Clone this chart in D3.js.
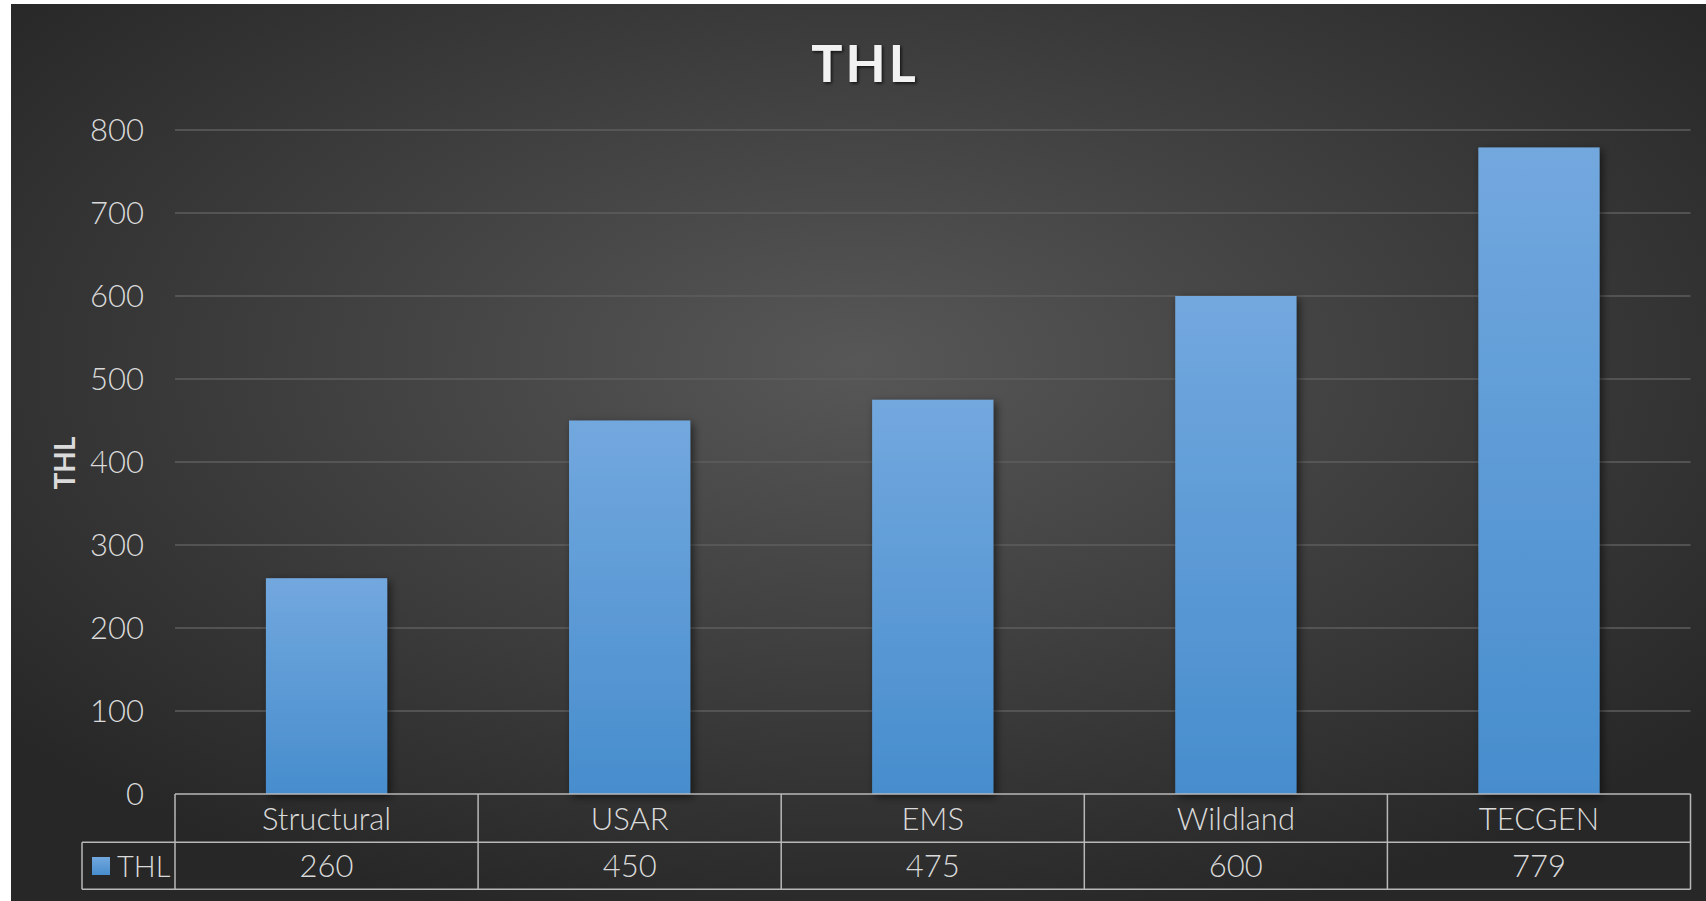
<!DOCTYPE html>
<html>
<head>
<meta charset="utf-8">
<script src="https://cdn.jsdelivr.net/npm/d3@7"></script>
<style>
  html, body { margin: 0; padding: 0; background: #ffffff; }
  svg { display: block; }
  text { font-family: Lato, "Open Sans", sans-serif; }
</style>
</head>
<body>
<svg id="chart" width="1706" height="901"></svg>
<script>
const categories = ["Structural", "USAR", "EMS", "Wildland", "TECGEN"];
const values = [260, 450, 475, 600, 779];
const seriesName = "THL";
const yTicks = [0, 100, 200, 300, 400, 500, 600, 700, 800];
const chartTitle = "THL";
const yAxisTitle = "THL";

(function () {
const svg = d3.select("#chart");
const defs = svg.append("defs");

const bg = defs.append("radialGradient").attr("id", "bgGrad")
  .attr("cx", "50%").attr("cy", "40%").attr("r", "65%");
bg.append("stop").attr("offset", "0%").attr("stop-color", "#575757");
bg.append("stop").attr("offset", "100%").attr("stop-color", "#272727");

const barGrad = defs.append("linearGradient").attr("id", "barGrad")
  .attr("x1", 0).attr("y1", 0).attr("x2", 0).attr("y2", 1);
barGrad.append("stop").attr("offset", "0%").attr("stop-color", "#72a8de");
barGrad.append("stop").attr("offset", "100%").attr("stop-color", "#478dcd");

const shadow = defs.append("filter").attr("id", "barShadow")
  .attr("x", "-20%").attr("y", "-20%").attr("width", "150%").attr("height", "150%");
shadow.append("feDropShadow").attr("dx", 3).attr("dy", 3).attr("stdDeviation", 4)
  .attr("flood-color", "#000").attr("flood-opacity", 0.55);

const tshadow = defs.append("filter").attr("id", "textShadow")
  .attr("x", "-20%").attr("y", "-20%").attr("width", "140%").attr("height", "160%");
tshadow.append("feDropShadow").attr("dx", 1.5).attr("dy", 1.5).attr("stdDeviation", 1.5)
  .attr("flood-color", "#000").attr("flood-opacity", 0.7);

// background
svg.append("rect").attr("x", 11).attr("y", 4).attr("width", 1706 - 11).attr("height", 901 - 4)
  .attr("fill", "url(#bgGrad)");

const pLeft = 175, pRight = 1690.5, pTop = 130, pBottom = 794;
const y = d3.scaleLinear().domain([0, 800]).range([pBottom, pTop]);
const x = d3.scaleBand().domain(categories).range([pLeft, pRight]).paddingInner(0.6).paddingOuter(0.3);
const col = d3.scaleBand().domain(categories).range([pLeft, pRight]).padding(0);

const txtColor = "#dadada";
const txtWeight = 300;

// gridlines
svg.append("g").selectAll("line").data(yTicks.filter(d => d > 0)).join("line")
  .attr("x1", pLeft).attr("x2", pRight)
  .attr("y1", d => y(d)).attr("y2", d => y(d))
  .attr("stroke", "#5e5e5e").attr("stroke-width", 1.5);

// y axis labels
const yAxis = d3.axisLeft(y).tickValues(yTicks).tickSize(0).tickPadding(0);
const gy = svg.append("g").attr("transform", "translate(144,0)").call(yAxis);
gy.select(".domain").remove();
gy.selectAll("text").attr("fill", txtColor).style("font-size", "31px").style("font-weight", txtWeight)
  .style("font-family", "Lato, sans-serif").attr("dy", "0.35em");

// bars
svg.append("g").selectAll("rect").data(values).join("rect")
  .attr("x", (d, i) => x(categories[i]))
  .attr("width", x.bandwidth())
  .attr("y", d => y(d))
  .attr("height", d => y(0) - y(d))
  .attr("fill", "url(#barGrad)")
  .attr("filter", "url(#barShadow)");

// title
svg.append("text").attr("x", 865).attr("y", 82)
  .attr("text-anchor", "middle")
  .attr("fill", "#f2f2f2")
  .style("font-size", "52px").style("font-weight", "700").style("letter-spacing", "3px")
  .attr("filter", "url(#textShadow)")
  .text(chartTitle);

// y axis title
svg.append("text").attr("transform", "translate(75,463) rotate(-90)")
  .attr("text-anchor", "middle").attr("fill", txtColor)
  .style("font-size", "28px").style("font-weight", "bold")
  .text(yAxisTitle);

// data table
const tableColor = "#b8b8b8";
const row1 = 842.3, row2 = 889.3, legendLeft = 82;
const tg = svg.append("g");
tg.append("line").attr("x1", pLeft).attr("x2", pRight).attr("y1", pBottom).attr("y2", pBottom)
  .attr("stroke", tableColor).attr("stroke-width", 1.5);
[row1, row2].forEach(yy => tg.append("line").attr("x1", legendLeft).attr("x2", pRight)
  .attr("y1", yy).attr("y2", yy).attr("stroke", tableColor).attr("stroke-width", 1.5));
tg.append("line").attr("x1", legendLeft).attr("x2", legendLeft).attr("y1", row1).attr("y2", row2)
  .attr("stroke", tableColor).attr("stroke-width", 1.5);
const vx = categories.map(c => col(c)).concat([pRight]);
tg.selectAll("line.v").data(vx).join("line").attr("class", "v")
  .attr("x1", d => d).attr("x2", d => d).attr("y1", pBottom).attr("y2", row2)
  .attr("stroke", tableColor).attr("stroke-width", 1.5);

tg.selectAll("text.cat").data(categories).join("text").attr("class", "cat")
  .attr("x", d => col(d) + col.bandwidth() / 2).attr("y", 830)
  .attr("text-anchor", "middle").attr("fill", txtColor).style("font-size", "31px").style("font-weight", txtWeight)
  .text(d => d);
tg.selectAll("text.val").data(values).join("text").attr("class", "val")
  .attr("x", (d, i) => col(categories[i]) + col.bandwidth() / 2).attr("y", 877)
  .attr("text-anchor", "middle").attr("fill", txtColor).style("font-size", "31px").style("font-weight", txtWeight)
  .text(d => d);

// legend key
tg.append("rect").attr("x", 92).attr("y", 857).attr("width", 18).attr("height", 18)
  .attr("fill", "url(#barGrad)");
tg.append("text").attr("x", 117).attr("y", 877).attr("fill", txtColor)
  .style("font-size", "29px").style("font-weight", txtWeight).text(seriesName);
})();
</script>
</body>
</html>
